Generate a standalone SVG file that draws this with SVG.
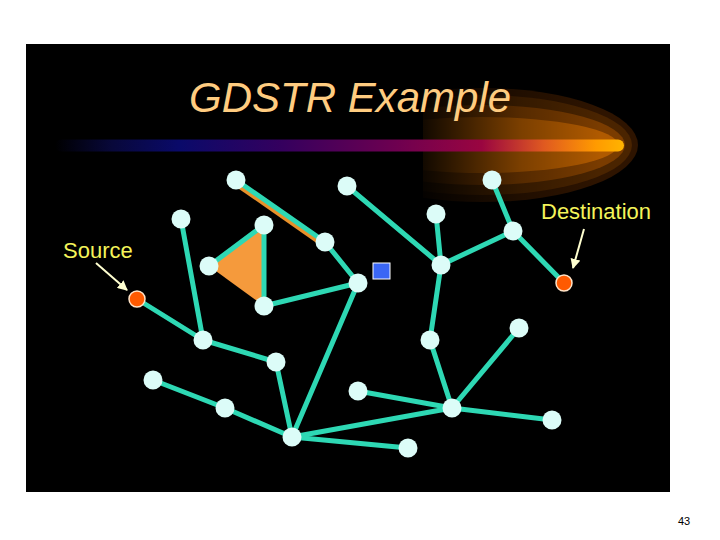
<svg xmlns="http://www.w3.org/2000/svg" width="720" height="540" viewBox="0 0 720 540">
<defs>
<linearGradient id="bar" x1="55" y1="0" x2="624" y2="0" gradientUnits="userSpaceOnUse">
<stop offset="0" stop-color="#000000"/>
<stop offset="0.1" stop-color="#08083a"/>
<stop offset="0.22" stop-color="#0a0a6a"/>
<stop offset="0.4" stop-color="#35005e"/>
<stop offset="0.6" stop-color="#6e0050"/>
<stop offset="0.75" stop-color="#9a0540"/>
<stop offset="0.86" stop-color="#e05a20"/>
<stop offset="0.95" stop-color="#ff9a00"/>
<stop offset="1" stop-color="#ffb400"/>
</linearGradient>
<linearGradient id="fade" x1="423" y1="0" x2="600" y2="0" gradientUnits="userSpaceOnUse">
<stop offset="0" stop-color="#000" stop-opacity="0.9"/>
<stop offset="0.55" stop-color="#000" stop-opacity="0.3"/>
<stop offset="1" stop-color="#000" stop-opacity="0"/>
</linearGradient>
<clipPath id="glowclip"><rect x="423" y="80" width="240" height="130"/></clipPath>
<marker id="arr" viewBox="0 0 10 10" refX="9" refY="5" markerWidth="5" markerHeight="5" orient="auto">
<path d="M0,0 L10,5 L0,10 z" fill="#ffffd0"/>
</marker>
<style>
.edge{stroke:#2ed8b4;stroke-width:5;stroke-linecap:round;fill:none}
.node{fill:#dcfcf8}
.end{fill:#ff5a00;stroke:#ffe4c8;stroke-width:1.5}
.lbl{font-family:"Liberation Sans",Arial,sans-serif;font-size:22px;fill:#f4f45a}
.arrow{stroke:#ffffd0;stroke-width:2;marker-end:url(#arr)}
</style>
</defs>
<rect x="0" y="0" width="720" height="540" fill="#ffffff"/>
<rect x="26" y="44" width="644" height="448" fill="#000000"/>
<g id="glow" clip-path="url(#glowclip)">
<ellipse cx="482" cy="145" rx="156" ry="57" fill="#2e1400"/>
<ellipse cx="482" cy="145" rx="150" ry="50" fill="#4a2400"/>
<ellipse cx="482" cy="145" rx="143" ry="40" fill="#7a3c00"/>
<ellipse cx="482" cy="145" rx="136" ry="28" fill="#b05a00"/>
<rect x="423" y="80" width="240" height="130" fill="url(#fade)"/>
</g>
<rect id="bar-line" x="55" y="139.5" width="569" height="12" rx="6" fill="url(#bar)"/>
<text id="title" x="189" y="112" font-family="'Liberation Sans',Arial,sans-serif" font-size="42" font-style="italic" fill="#ffcc80">GDSTR Example</text>
<g id="triangle"><polygon points="209,266 264,225 264,306" fill="#f59a3c"/></g>
<g id="connectors">
<line x1="234" y1="183" x2="323" y2="245" stroke="#e8902a" stroke-width="4"/>
<line class="edge" x1="236" y1="180" x2="325" y2="242"/>
<line class="edge" x1="325" y1="242" x2="358" y2="283"/>
<line class="edge" x1="347" y1="186" x2="441" y2="265"/>
<line class="edge" x1="492" y1="180" x2="513" y2="231"/>
<line class="edge" x1="513" y1="231" x2="441" y2="265"/>
<line class="edge" x1="513" y1="231" x2="564" y2="283"/>
<line class="edge" x1="436" y1="214" x2="441" y2="265"/>
<line class="edge" x1="441" y1="265" x2="430" y2="340"/>
<line class="edge" x1="430" y1="340" x2="452" y2="408"/>
<line class="edge" x1="519" y1="328" x2="452" y2="408"/>
<line class="edge" x1="358" y1="391" x2="452" y2="408"/>
<line class="edge" x1="452" y1="408" x2="552" y2="420"/>
<line class="edge" x1="452" y1="408" x2="292" y2="437"/>
<line class="edge" x1="292" y1="437" x2="408" y2="448"/>
<line class="edge" x1="292" y1="437" x2="358" y2="283"/>
<line class="edge" x1="292" y1="437" x2="276" y2="362"/>
<line class="edge" x1="292" y1="437" x2="225" y2="408"/>
<line class="edge" x1="225" y1="408" x2="153" y2="380"/>
<line class="edge" x1="276" y1="362" x2="203" y2="340"/>
<line class="edge" x1="203" y1="340" x2="181" y2="219"/>
<line class="edge" x1="203" y1="340" x2="137" y2="299"/>
<line class="edge" x1="264" y1="306" x2="358" y2="283"/>
<line class="edge" x1="209" y1="266" x2="264" y2="225"/>
<line class="edge" x1="264" y1="225" x2="264" y2="306"/>
<line class="arrow" x1="96" y1="263" x2="127" y2="290"/>
<line class="arrow" x1="584" y1="229" x2="573" y2="268"/>
</g>
<g id="nodes">
<circle id="nA" class="node" cx="236" cy="180" r="9.5"/>
<circle id="nB" class="node" cx="347" cy="186" r="9.5"/>
<circle id="nC" class="node" cx="492" cy="180" r="9.5"/>
<circle id="nD" class="node" cx="181" cy="219" r="9.5"/>
<circle id="nE" class="node" cx="264" cy="225" r="9.5"/>
<circle id="nF" class="node" cx="325" cy="242" r="9.5"/>
<circle id="nG" class="node" cx="436" cy="214" r="9.5"/>
<circle id="nH" class="node" cx="513" cy="231" r="9.5"/>
<circle id="nI" class="node" cx="209" cy="266" r="9.5"/>
<circle id="nJ" class="node" cx="358" cy="283" r="9.5"/>
<circle id="nK" class="node" cx="441" cy="265" r="9.5"/>
<circle id="nL" class="node" cx="264" cy="306" r="9.5"/>
<circle id="nM" class="node" cx="203" cy="340" r="9.5"/>
<circle id="nN" class="node" cx="276" cy="362" r="9.5"/>
<circle id="nO" class="node" cx="153" cy="380" r="9.5"/>
<circle id="nP" class="node" cx="225" cy="408" r="9.5"/>
<circle id="nQ" class="node" cx="292" cy="437" r="9.5"/>
<circle id="nR" class="node" cx="408" cy="448" r="9.5"/>
<circle id="nT" class="node" cx="358" cy="391" r="9.5"/>
<circle id="nU" class="node" cx="452" cy="408" r="9.5"/>
<circle id="nV" class="node" cx="430" cy="340" r="9.5"/>
<circle id="nW" class="node" cx="519" cy="328" r="9.5"/>
<circle id="nX" class="node" cx="552" cy="420" r="9.5"/>
</g>
<g id="source"><circle class="end" cx="137" cy="299" r="8"/><text class="lbl" x="63" y="258">Source</text></g>
<g id="destination"><circle class="end" cx="564" cy="283" r="8"/><text class="lbl" x="541" y="219">Destination</text></g>
<g id="blue"><rect x="373" y="263" width="17" height="16" fill="#3a66f5" stroke="#ffffff" stroke-width="1"/></g>
<text x="684" y="525" font-family="'Liberation Sans',Arial,sans-serif" font-size="11" text-anchor="middle" fill="#000">43</text>
</svg>
